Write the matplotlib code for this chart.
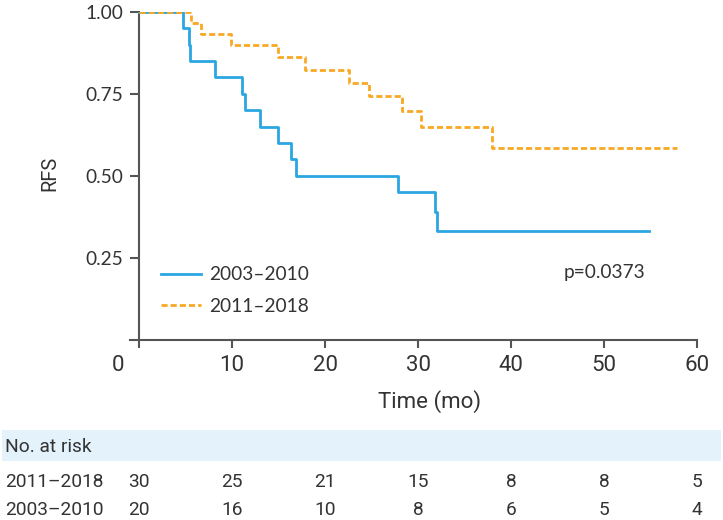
import matplotlib
matplotlib.use("Agg")
import matplotlib.pyplot as plt
from matplotlib import font_manager
from matplotlib.patches import Rectangle
import matplotlib.transforms as mtransforms

# ---- data ----
t_2003 = [0, 4.7, 5.35, 5.5, 8.2, 11.1, 11.4, 13.0, 14.9, 16.3, 16.9, 27.8, 31.8, 32.0, 54.8]
s_2003 = [1.0, 0.95, 0.90, 0.85, 0.80, 0.75, 0.70, 0.65, 0.60, 0.55, 0.50, 0.45, 0.389, 0.333, 0.333]
t_2011 = [0, 5.6, 6.7, 9.9, 14.9, 17.9, 22.6, 24.7, 28.3, 30.3, 38.0, 57.9]
s_2011 = [1.0, 0.967, 0.933, 0.90, 0.862, 0.821, 0.783, 0.742, 0.697, 0.650, 0.584, 0.584]
labels = ["2003\u20132010", "2011\u20132018"]
p_text = "p=0.0373"
x_ticks = [0, 10, 20, 30, 40, 50, 60]
y_ticks = [0.25, 0.50, 0.75, 1.00]
risk_times = [0, 10, 20, 30, 40, 50, 60]
risk_2011 = [30, 25, 21, 15, 8, 8, 5]
risk_2003 = [20, 16, 10, 8, 6, 5, 4]

names = {f.name for f in font_manager.fontManager.ttflist}
NARROW = "Liberation Sans Narrow" if "Liberation Sans Narrow" in names else "Roboto"
GEO = "Lato"
TXT = "#333333"

W, H = 723, 520
fig = plt.figure(figsize=(W / 100, H / 100), dpi=100)

def fx(x):
    return x / W

def fy(y):
    return 1 - y / H

ax_l, ax_r, ax_t, ax_b = 130, 697, 11.7, 340
ax = fig.add_axes([fx(ax_l), fy(ax_b), (ax_r - ax_l) / W, (ax_b - ax_t) / H])
ax.set_xlim(-0.97, 60)
ax.set_ylim(0, 1)

BLUE = "#2AA6E0"
ORANGE = "#F8A822"
SP = "#555555"

l1, = ax.step(t_2003, s_2003, where="post", color=BLUE, lw=2.0, label=labels[0], zorder=3)
l2, = ax.step(t_2011, s_2011, where="post", color=ORANGE, lw=2.0,
              linestyle=(0, (2.2, 1.1)), label=labels[1], zorder=4)

for s in ["top", "right"]:
    ax.spines[s].set_visible(False)
ax.spines["left"].set_position(("data", 0))
for s in ["left", "bottom"]:
    ax.spines[s].set_color(SP)
    ax.spines[s].set_linewidth(1.5)

ax.set_yticks(y_ticks)
ax.set_yticklabels([f"{v:.2f}" for v in y_ticks], fontfamily=GEO, fontsize=13.8, color=TXT)
ax.set_xticks(x_ticks)
ax.set_xticklabels([""] + [str(v) for v in x_ticks[1:]], fontfamily=NARROW, fontsize=16, color=TXT)
ax.tick_params(axis="y", length=6.5, width=1.5, color=SP, pad=5)
ax.tick_params(axis="x", length=6, width=1.5, color=SP, pad=5)

fig.text(fx(118), fy(371), "0", ha="center", va="baseline", fontfamily=NARROW, fontsize=16, color=TXT)
fig.text(fx(430), fy(408), "Time (mo)", ha="center", va="baseline", fontfamily=NARROW, fontsize=16, color=TXT)
fig.text(fx(50), fy(173), "RFS", ha="center", va="center", rotation=90, fontfamily=NARROW, fontsize=14.5, color=TXT)

ax.text(50, 0.207, p_text, ha="center", va="center", fontfamily=GEO, fontsize=13.8, color=TXT)

leg = ax.legend(handles=[l1, l2], loc="upper left", bbox_to_anchor=(0.054, 0.224),
                frameon=False, prop={"family": GEO, "size": 13.8}, handlelength=2.1,
                handletextpad=0.45, labelspacing=0.74, borderpad=0, borderaxespad=0)
for txt in leg.get_texts():
    txt.set_color(TXT)

# risk table
fig.patches.append(Rectangle((fx(2), fy(461)), (721 - 2) / W, 31 / H, transform=fig.transFigure,
                             facecolor="#E4F3FB", edgecolor="none", zorder=0))
TS = 13.8
fig.text(fx(5), fy(452), "No. at risk", ha="left", va="baseline", fontfamily=NARROW, fontsize=TS, color=TXT)
trans = mtransforms.blended_transform_factory(ax.transData, fig.transFigure)
fig.text(fx(5), fy(487), labels[1], ha="left", va="baseline", fontfamily=NARROW, fontsize=TS, color=TXT)
fig.text(fx(5), fy(515), labels[0], ha="left", va="baseline", fontfamily=NARROW, fontsize=TS, color=TXT)
for tt, a, b in zip(risk_times, risk_2011, risk_2003):
    fig.text(tt, fy(487), str(a), transform=trans, ha="center", va="baseline",
             fontfamily=NARROW, fontsize=TS, color=TXT)
    fig.text(tt, fy(515), str(b), transform=trans, ha="center", va="baseline",
             fontfamily=NARROW, fontsize=TS, color=TXT)

fig.savefig("out.png", dpi=100)
